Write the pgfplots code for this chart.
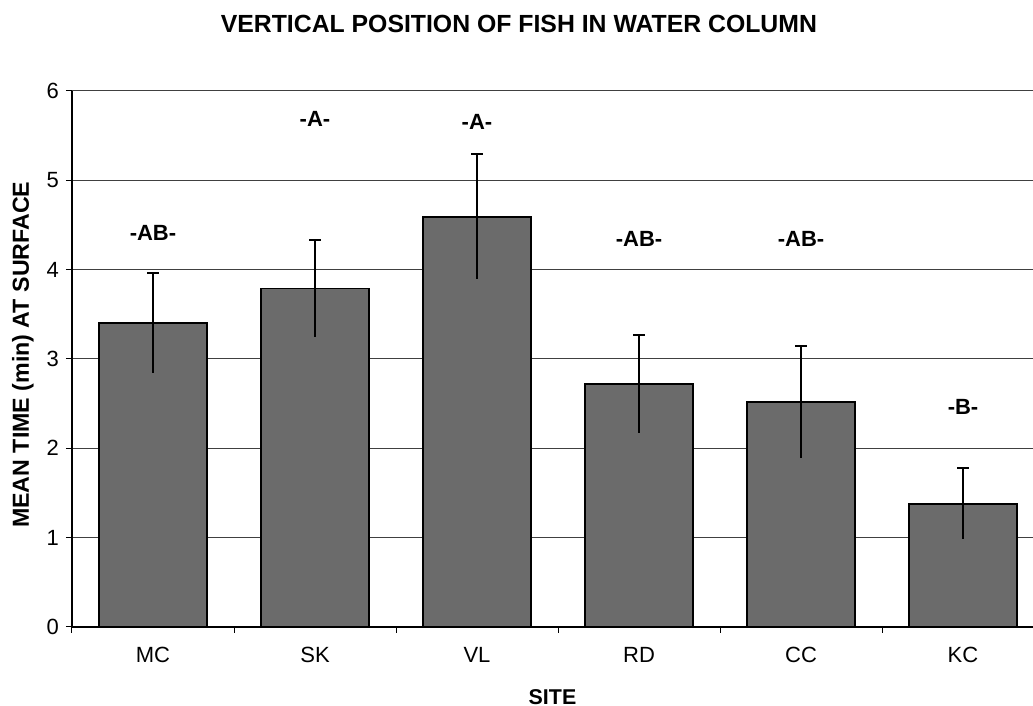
\documentclass[border=0pt]{standalone}
\usepackage{fontspec}
\setmainfont{Liberation Sans}
\usepackage{pgfplots}
\pgfplotsset{compat=1.18}
\begin{document}
\begin{tikzpicture}
\begin{axis}[
  scale only axis, width=480.5pt, height=268pt,
  xmin=-0.5, xmax=5.432, ymin=0, ymax=6,
  axis x line*=bottom, axis y line*=left,
  axis line style={-, black, line width=0.7pt},
  ytick={0,...,6}, ymajorgrids,
  grid style={black!75, line width=0.5pt},
  xtick={-0.5,0.5,1.5,2.5,3.5,4.5},
  xticklabels={MC,SK,VL,RD,CC,KC},
  xticklabel style={xshift=40.5pt, yshift=-3.5pt},
  tick align=outside, major tick length=3pt,
  tick style={black, line width=0.5pt},
  ticklabel style={font=\fontsize{11}{13}\selectfont},
  /pgf/number format/assume math mode=true,
  title={VERTICAL POSITION OF FISH IN WATER COLUMN},
  title style={at={(axis description cs:0.465,1)}, anchor=center, yshift=27.5pt, font=\bfseries\fontsize{12.4}{14}\selectfont},
  xlabel={SITE},
  xlabel style={at={(axis description cs:0.5,0)}, anchor=center, yshift=-35pt, font=\bfseries\fontsize{10.7}{12}\selectfont},
  ylabel={MEAN TIME (min) AT SURFACE},
  ylabel style={at={(axis description cs:-0.051,0.508)}, anchor=center, font=\bfseries\fontsize{11.6}{13}\selectfont},
]
\addplot[ybar, bar width=54pt, fill=black!58, draw=black, line width=0.8pt,
  error bars/.cd, y dir=plus, y explicit, error mark=-,
  error bar style={black, line width=1pt},
  error mark options={rotate=90, black, line width=1pt, mark size=2.8pt}]
  table[x=x, y=y, y error=e] {
x y e
0 3.40 0.56
1 3.79 0.54
2 4.59 0.70
3 2.72 0.55
4 2.52 0.63
5 1.38 0.40
};
\addplot[ybar, bar width=54pt, draw=none, fill=none, forget plot,
  error bars/.cd, y dir=minus, y explicit, error mark=none,
  error bar style={black, line width=1pt}]
  table[x=x, y=y, y error=e] {
x y e
0 3.40 0.56
1 3.79 0.54
2 4.59 0.70
3 2.72 0.55
4 2.52 0.63
5 1.38 0.40
};
\addplot[only marks, mark=none, nodes near coords, point meta=explicit symbolic,
  nodes near coords style={anchor=center, font=\bfseries\fontsize{11}{13}\selectfont}]
  table[x=x, y=y, meta=label] {
x y label
0 4.41 -AB-
1 5.69 -A-
2 5.65 -A-
3 4.34 -AB-
4 4.34 -AB-
5 2.46 -B-
};
\end{axis}
\pgfresetboundingbox
\path ([shift={(-36pt,-39.5pt)}]current axis.south west) rectangle ([shift={(0pt,45.5pt)}]current axis.north east);
\end{tikzpicture}
\end{document}
